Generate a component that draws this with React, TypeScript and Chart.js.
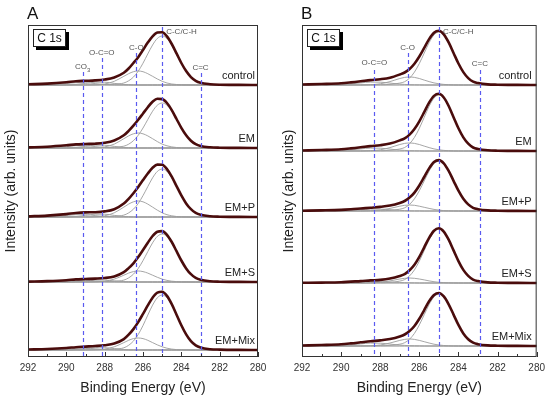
import React, { useEffect, useRef } from 'react';
import { Chart, registerables } from 'chart.js';

Chart.register(...registerables);

const FONT = '"Liberation Sans", Arial, Helvetica, sans-serif';

// Binding energy grid (eV)
const energies = [292, 291, 290, 289.5, 289, 288.5, 288, 287.5, 287, 286.75, 286.5, 286.25, 286, 285.75, 285.5, 285.25, 285, 284.75, 284.5, 284.25, 284, 283.75, 283.5, 283.25, 283, 282.5, 282, 281, 280];
const baselineLevel = [0, 0, 0, 0, 0, 0, 0, 0, 0, 0, 0, 0, 0, 0, 0, 0, 0, 0, 0, 0, 0, 0, 0, 0, 0, 0, 0, 0, 0];
const sampleNames = ['control', 'EM', 'EM+P', 'EM+S', 'EM+Mix'];
const xTickValues = [292, 290, 288, 286, 284, 282, 280];

// ---------------- Panel A ----------------
const aOffsets = [272, 209, 140, 75, 7];
const aPeakLabels = ['CO3', 'O-C=O', 'C-O', 'C-C/C-H', 'C=C'];
const aPeakEnergies = [289.15, 288.15, 286.35, 285.0, 283.0];

const aEnvControl = [0.7, 1.4, 2.8, 3.8, 4.2, 4.6, 5.5, 7.5, 12.2, 16.5, 22, 27.8, 35, 42.4, 48.7, 52.4, 52.8, 48.6, 41, 31.6, 22, 13.9, 7.9, 4.2, 2.2, 0.8, 0.3, 0.1, 0];
const aCcControl = [0, 0, 0, 0.1, 0.1, 0.2, 0.4, 0.7, 2, 4.2, 7.9, 13.8, 21.8, 31.1, 40, 46.6, 49, 46.6, 40, 31.1, 21.8, 13.8, 7.9, 4.2, 2.2, 0.7, 0.3, 0.1, 0];
const aCoControl = [0, 0, 0, 0, 0, 0.2, 1, 3.7, 8.7, 11.3, 13.3, 14, 13.3, 11.3, 8.7, 6, 3.7, 2, 1, 0.5, 0.2, 0.1, 0, 0, 0, 0, 0, 0, 0];
const aOcoControl = [0, 0, 0.1, 0.5, 1.6, 2.8, 2.8, 1.6, 0.5, 0.3, 0.1, 0, 0, 0, 0, 0, 0, 0, 0, 0, 0, 0, 0, 0, 0, 0, 0, 0, 0];
const aCo3Control = [0, 0.1, 1.4, 2.3, 2.3, 1.4, 0.5, 0.1, 0, 0, 0, 0, 0, 0, 0, 0, 0, 0, 0, 0, 0, 0, 0, 0, 0, 0, 0, 0, 0];

const aEnvEM = [0.6, 1.3, 2.7, 3.6, 4.0, 4.3, 5.2, 7.5, 12.7, 17.1, 22.3, 28.2, 34.5, 40.8, 46.2, 49.2, 48.9, 45, 37.9, 29, 20.2, 12.8, 7.3, 3.8, 2, 0.7, 0.3, 0.1, 0];
const aCcEM = [0, 0, 0, 0.1, 0.1, 0.2, 0.4, 0.7, 1.8, 3.8, 7.3, 12.7, 20, 28.5, 36.8, 42.8, 45, 42.8, 36.8, 28.5, 20, 12.7, 7.3, 3.8, 2, 0.7, 0.3, 0.1, 0];
const aCoEM = [0, 0, 0, 0, 0, 0.2, 1.1, 3.9, 9.3, 12.1, 14.2, 15, 14.2, 12.1, 9.3, 6.4, 3.9, 2.2, 1.1, 0.5, 0.2, 0.1, 0, 0, 0, 0, 0, 0, 0];
const aOcoEM = [0, 0, 0.1, 0.5, 1.6, 2.8, 2.8, 1.6, 0.5, 0.3, 0.1, 0, 0, 0, 0, 0, 0, 0, 0, 0, 0, 0, 0, 0, 0, 0, 0, 0, 0];
const aCo3EM = [0, 0.1, 1.4, 2.3, 2.3, 1.4, 0.5, 0.1, 0, 0, 0, 0, 0, 0, 0, 0, 0, 0, 0, 0, 0, 0, 0, 0, 0, 0, 0, 0, 0];

const aEnvEMP = [0.6, 1.4, 2.9, 4.0, 4.6, 4.8, 5.6, 7.8, 13.4, 18.2, 23.8, 30, 36.9, 43.5, 49.2, 52.4, 52.2, 47.9, 40.4, 30.9, 21.6, 13.6, 7.8, 4.1, 2.2, 0.7, 0.3, 0.1, 0];
const aCcEMP = [0, 0, 0, 0.1, 0.1, 0.2, 0.4, 0.7, 1.9, 4.1, 7.8, 13.5, 21.4, 30.4, 39.2, 45.6, 48, 45.6, 39.2, 30.4, 21.4, 13.5, 7.8, 4.1, 2.2, 0.7, 0.3, 0.1, 0];
const aCoEMP = [0, 0, 0, 0, 0, 0.2, 1.2, 4.2, 9.9, 12.9, 15.2, 16, 15.2, 12.9, 9.9, 6.8, 4.2, 2.3, 1.2, 0.5, 0.2, 0.1, 0, 0, 0, 0, 0, 0, 0];
const aOcoEMP = [0, 0, 0.1, 0.5, 1.6, 2.8, 2.8, 1.6, 0.5, 0.3, 0.1, 0, 0, 0, 0, 0, 0, 0, 0, 0, 0, 0, 0, 0, 0, 0, 0, 0, 0];
const aCo3EMP = [0, 0.1, 1.4, 2.3, 2.3, 1.4, 0.5, 0.1, 0, 0, 0, 0, 0, 0, 0, 0, 0, 0, 0, 0, 0, 0, 0, 0, 0, 0, 0, 0, 0];

const aEnvEMS = [0.4, 0.9, 1.8, 2.6, 3.0, 3.4, 4.0, 5.6, 9.9, 13.9, 18.7, 24.9, 32, 39.3, 46, 50.3, 50.9, 47.2, 40, 30.8, 21.5, 13.6, 7.8, 4.1, 2.2, 0.7, 0.3, 0.1, 0];
const aCcEMS = [0, 0, 0, 0.1, 0.1, 0.2, 0.4, 0.7, 1.9, 4.1, 7.8, 13.5, 21.4, 30.4, 39.2, 45.6, 48, 45.6, 39.2, 30.4, 21.4, 13.5, 7.8, 4.1, 2.2, 0.7, 0.3, 0.1, 0];
const aCoEMS = [0, 0, 0, 0, 0, 0.1, 0.8, 2.9, 6.8, 8.9, 10.4, 11, 10.4, 8.9, 6.8, 4.7, 2.9, 1.6, 0.8, 0.4, 0.1, 0.1, 0, 0, 0, 0, 0, 0, 0];
const aOcoEMS = [0, 0, 0.1, 0.4, 1.1, 1.9, 1.9, 1.1, 0.4, 0.2, 0.1, 0, 0, 0, 0, 0, 0, 0, 0, 0, 0, 0, 0, 0, 0, 0, 0, 0, 0];
const aCo3EMS = [0, 0.1, 0.8, 1.4, 1.4, 0.8, 0.3, 0.1, 0, 0, 0, 0, 0, 0, 0, 0, 0, 0, 0, 0, 0, 0, 0, 0, 0, 0, 0, 0, 0];

const aEnvEMMix = [0.5, 1.0, 2.0, 2.8, 3.4, 4.0, 4.8, 6.4, 10.9, 15.3, 20.9, 27.9, 36.1, 44.6, 52.3, 57.4, 58.2, 54.1, 45.8, 35.3, 24.7, 15.6, 8.9, 4.7, 2.5, 0.8, 0.4, 0.1, 0];
const aCcEMMix = [0, 0, 0, 0.1, 0.2, 0.3, 0.4, 0.8, 2.2, 4.7, 8.9, 15.5, 24.5, 34.9, 44.9, 52.3, 55, 52.3, 44.9, 34.9, 24.5, 15.5, 8.9, 4.7, 2.5, 0.8, 0.4, 0.1, 0];
const aCoEMMix = [0, 0, 0, 0, 0, 0.2, 0.9, 3.2, 7.4, 9.7, 11.4, 12, 11.4, 9.7, 7.4, 5.1, 3.2, 1.8, 0.9, 0.4, 0.2, 0.1, 0, 0, 0, 0, 0, 0, 0];
const aOcoEMMix = [0, 0, 0.1, 0.5, 1.4, 2.3, 2.3, 1.4, 0.5, 0.2, 0.1, 0, 0, 0, 0, 0, 0, 0, 0, 0, 0, 0, 0, 0, 0, 0, 0, 0, 0];
const aCo3EMMix = [0, 0.1, 1.1, 1.9, 1.9, 1.1, 0.4, 0.1, 0, 0, 0, 0, 0, 0, 0, 0, 0, 0, 0, 0, 0, 0, 0, 0, 0, 0, 0, 0, 0];

// ---------------- Panel B ----------------
const bOffsets = [272, 206, 146, 74, 11];
const bPeakLabels = ['O-C=O', 'C-O', 'C-C/C-H', 'C=C'];
const bPeakEnergies = [288.3, 286.6, 285.0, 282.9];

const bEnvControl = [0.5, 1.0, 1.7, 2.6, 3.7, 4.9, 5.8, 7.3, 10.5, 12.5, 16, 21.3, 28.5, 37.1, 45.9, 52.3, 54.2, 50.7, 42.6, 32, 21.5, 12.9, 6.9, 3.3, 1.9, 0.6, 0.3, 0.1, 0];
const bCcControl = [0, 0, 0, 0.1, 0.1, 0.2, 0.3, 0.6, 1.9, 3.3, 6.9, 12.9, 21.5, 31.9, 42.3, 50.1, 53, 50.1, 42.3, 31.9, 21.5, 12.9, 6.9, 3.3, 1.9, 0.6, 0.3, 0.1, 0];
const bCoControl = [0, 0, 0, 0, 0, 0.3, 1.2, 3.4, 6.5, 7.6, 8, 7.6, 6.5, 4.9, 3.4, 2.1, 1.2, 0.6, 0.3, 0.1, 0, 0, 0, 0, 0, 0, 0, 0, 0];
const bOcoControl = [0, 0, 0.4, 1.1, 2.1, 2.9, 2.8, 1.9, 0.9, 0.6, 0.3, 0.2, 0.1, 0, 0, 0, 0, 0, 0, 0, 0, 0, 0, 0, 0, 0, 0, 0, 0];

const bEnvEM = [0.5, 1.0, 1.7, 2.6, 3.7, 4.9, 5.8, 7.4, 10.6, 12.7, 16.4, 22, 29.7, 38.9, 48.3, 55.1, 57.2, 53.5, 45, 33.8, 22.7, 13.6, 7.3, 3.5, 2, 0.7, 0.3, 0.1, 0];
const bCcEM = [0, 0, 0, 0.1, 0.1, 0.2, 0.3, 0.7, 2, 3.5, 7.3, 13.6, 22.7, 33.7, 44.7, 52.9, 56, 52.9, 44.7, 33.7, 22.7, 13.6, 7.3, 3.5, 2, 0.7, 0.3, 0.1, 0];
const bCoEM = [0, 0, 0, 0, 0, 0.3, 1.2, 3.4, 6.5, 7.6, 8, 7.6, 6.5, 4.9, 3.4, 2.1, 1.2, 0.6, 0.3, 0.1, 0, 0, 0, 0, 0, 0, 0, 0, 0];
const bOcoEM = [0, 0, 0.4, 1.1, 2.1, 2.9, 2.8, 1.9, 0.9, 0.6, 0.3, 0.2, 0.1, 0, 0, 0, 0, 0, 0, 0, 0, 0, 0, 0, 0, 0, 0, 0, 0];

const bEnvEMP = [0.3, 0.6, 1.1, 1.7, 2.5, 3.3, 4.1, 5.4, 8, 10, 13.4, 18.4, 25.5, 34, 42.6, 48.9, 50.9, 47.7, 40.1, 30.2, 20.3, 12.2, 6.6, 3.2, 1.8, 0.6, 0.3, 0.1, 0];
const bCcEMP = [0, 0, 0, 0.1, 0.1, 0.2, 0.3, 0.6, 1.8, 3.2, 6.6, 12.2, 20.3, 30.1, 39.9, 47.3, 50, 47.3, 39.9, 30.1, 20.3, 12.2, 6.6, 3.2, 1.8, 0.6, 0.3, 0.1, 0];
const bCoEMP = [0, 0, 0, 0, 0, 0.2, 0.9, 2.6, 4.8, 5.7, 6, 5.7, 4.8, 3.7, 2.6, 1.6, 0.9, 0.4, 0.2, 0.1, 0, 0, 0, 0, 0, 0, 0, 0, 0];
const bOcoEMP = [0, 0, 0.3, 0.7, 1.4, 1.9, 1.9, 1.3, 0.6, 0.4, 0.2, 0.1, 0.1, 0, 0, 0, 0, 0, 0, 0, 0, 0, 0, 0, 0, 0, 0, 0, 0];

const bEnvEMS = [0.2, 0.4, 0.8, 1.4, 1.9, 2.6, 3.1, 4.4, 7, 8.9, 12.7, 18.2, 26.1, 35.7, 45.2, 52.3, 54.7, 51.4, 43.3, 32.6, 21.9, 13.1, 7.1, 3.4, 1.9, 0.6, 0.3, 0.1, 0];
const bCcEMS = [0, 0, 0, 0.1, 0.1, 0.2, 0.3, 0.6, 1.9, 3.4, 7.1, 13.1, 21.9, 32.5, 43.1, 51, 54, 51, 43.1, 32.5, 21.9, 13.1, 7.1, 3.4, 1.9, 0.6, 0.3, 0.1, 0];
const bCoEMS = [0, 0, 0, 0, 0, 0.2, 0.7, 2.1, 4, 4.7, 5, 4.7, 4, 3.1, 2.1, 1.3, 0.7, 0.4, 0.2, 0.1, 0, 0, 0, 0, 0, 0, 0, 0, 0];
const bOcoEMS = [0, 0, 0.2, 0.6, 1.1, 1.5, 1.4, 1, 0.5, 0.3, 0.2, 0.1, 0, 0, 0, 0, 0, 0, 0, 0, 0, 0, 0, 0, 0, 0, 0, 0, 0];

const bEnvEMMix = [0.5, 1.0, 1.7, 2.6, 3.7, 4.8, 5.6, 6.9, 9.5, 11.5, 14.9, 20, 27.2, 35.9, 44.7, 51, 53, 49.6, 41.7, 31.4, 21.1, 12.6, 6.8, 3.3, 1.8, 0.6, 0.3, 0.1, 0];
const bCcEMMix = [0, 0, 0, 0.1, 0.1, 0.2, 0.3, 0.6, 1.8, 3.3, 6.8, 12.6, 21.1, 31.3, 41.5, 49.1, 52, 49.1, 41.5, 31.3, 21.1, 12.6, 6.8, 3.3, 1.8, 0.6, 0.3, 0.1, 0];
const bCoEMMix = [0, 0, 0, 0, 0, 0.2, 1, 3, 5.6, 6.6, 7, 6.6, 5.6, 4.3, 3, 1.8, 1, 0.5, 0.2, 0.1, 0, 0, 0, 0, 0, 0, 0, 0, 0];
const bOcoEMMix = [0, 0, 0.4, 1.1, 2.1, 2.9, 2.8, 1.9, 0.9, 0.6, 0.3, 0.2, 0.1, 0, 0, 0, 0, 0, 0, 0, 0, 0, 0, 0, 0, 0, 0, 0, 0];

type Spectrum = { env: number[]; comps: number[][] };

const aSpectra: Spectrum[] = [
  { env: aEnvControl, comps: [aCcControl, aCoControl, aOcoControl, aCo3Control] },
  { env: aEnvEM, comps: [aCcEM, aCoEM, aOcoEM, aCo3EM] },
  { env: aEnvEMP, comps: [aCcEMP, aCoEMP, aOcoEMP, aCo3EMP] },
  { env: aEnvEMS, comps: [aCcEMS, aCoEMS, aOcoEMS, aCo3EMS] },
  { env: aEnvEMMix, comps: [aCcEMMix, aCoEMMix, aOcoEMMix, aCo3EMMix] },
];
const bSpectra: Spectrum[] = [
  { env: bEnvControl, comps: [bCcControl, bCoControl, bOcoControl] },
  { env: bEnvEM, comps: [bCcEM, bCoEM, bOcoEM] },
  { env: bEnvEMP, comps: [bCcEMP, bCoEMP, bOcoEMP] },
  { env: bEnvEMS, comps: [bCcEMS, bCoEMS, bOcoEMS] },
  { env: bEnvEMMix, comps: [bCcEMMix, bCoEMMix, bOcoEMMix] },
];

type PanelCfg = {
  letter: string;
  spectra: Spectrum[];
  offsets: number[];
  peakLabels: string[];
  peakEnergies: number[];
  labelDy: number[];
  lineDy: number[];
  yWidth: number;
  padRight: number;
  yTitlePad: number;
  boxDx: number;
  nameDx: number;
};

const panelA: PanelCfg = {
  letter: 'A',
  spectra: aSpectra,
  offsets: aOffsets,
  peakLabels: aPeakLabels,
  peakEnergies: aPeakEnergies,
  labelDy: [42, 28, 23, 7, 43],
  lineDy: [47, 33, 28, 2, 48],
  yWidth: 28,
  padRight: 17,
  yTitlePad: 3,
  boxDx: 5,
  nameDx: 3,
};

const panelB: PanelCfg = {
  letter: 'B',
  spectra: bSpectra,
  offsets: bOffsets,
  peakLabels: bPeakLabels,
  peakEnergies: bPeakEnergies,
  labelDy: [38, 23, 7, 39],
  lineDy: [45, 28, 2, 45],
  yWidth: 27,
  padRight: 12,
  yTitlePad: 6,
  boxDx: 5,
  nameDx: 5,
};

function buildDatasets(cfg: PanelCfg) {
  const ds: any[] = [];
  cfg.spectra.forEach((s, k) => {
    const off = cfg.offsets[k];
    const pts = (vals: number[]) => energies.map((e, i) => ({ x: e, y: off + vals[i] }));
    ds.push({ data: pts(baselineLevel), borderColor: '#8a8a8a', borderWidth: 1, order: 3 });
    s.comps.forEach((c) => ds.push({ data: pts(c), borderColor: '#9c9c9c', borderWidth: 0.9, order: 2 }));
    ds.push({ data: pts(s.env), borderColor: '#4a0c0c', borderWidth: 2.6, order: 0 });
  });
  return ds;
}

function makePlugin(cfg: PanelCfg) {
  return {
    id: 'xpsAnnot' + cfg.letter,
    afterDatasetsDraw(chart: any) {
      const { ctx, chartArea: ca, scales } = chart;
      const x = scales.x;
      const y = scales.y;
      ctx.save();
      ctx.strokeStyle = '#5a5af0';
      ctx.lineWidth = 1.2;
      ctx.setLineDash([4, 3]);
      cfg.peakEnergies.forEach((e, i) => {
        const px = Math.round(x.getPixelForValue(e)) + 0.5;
        ctx.beginPath();
        ctx.moveTo(px, ca.top + cfg.lineDy[i]);
        ctx.lineTo(px, ca.bottom);
        ctx.stroke();
      });
      ctx.setLineDash([]);
      ctx.fillStyle = '#555';
      ctx.textBaseline = 'middle';
      cfg.peakLabels.forEach((lab, i) => {
        const px = x.getPixelForValue(cfg.peakEnergies[i]);
        const py = ca.top + cfg.labelDy[i];
        ctx.font = '8px ' + FONT;
        if (lab === 'CO3') {
          const w1 = ctx.measureText('CO').width;
          ctx.font = '6px ' + FONT;
          const w2 = ctx.measureText('3').width;
          const start = px - (w1 + w2) / 2;
          ctx.font = '8px ' + FONT;
          ctx.textAlign = 'left';
          ctx.fillText('CO', start, py);
          ctx.font = '6px ' + FONT;
          ctx.fillText('3', start + w1, py + 3);
        } else if (lab === 'C-C/C-H') {
          ctx.textAlign = 'left';
          ctx.fillText(lab, px + 4, py);
        } else {
          ctx.textAlign = 'center';
          ctx.fillText(lab, px, py);
        }
      });
      ctx.fillStyle = '#222';
      ctx.font = '11px ' + FONT;
      ctx.textAlign = 'right';
      ctx.textBaseline = 'middle';
      sampleNames.forEach((n, k) => {
        ctx.fillText(n, ca.right - cfg.nameDx, y.getPixelForValue(cfg.offsets[k]) - 9);
      });
      ctx.strokeStyle = '#333';
      ctx.lineWidth = 1;
      ctx.strokeRect(ca.left + 0.5, ca.top + 0.5, ca.right - ca.left - 1, ca.bottom - ca.top - 1);
      for (let v = 280; v <= 292; v += 1) {
        const px = Math.round(x.getPixelForValue(v)) + 0.5;
        const len = v % 2 === 0 ? 5 : 3;
        ctx.beginPath();
        ctx.moveTo(px, ca.bottom);
        ctx.lineTo(px, ca.bottom - len);
        ctx.stroke();
      }
      const bx = ca.left + cfg.boxDx;
      const by = ca.top + 4;
      const bw = 33;
      const bh = 18;
      ctx.fillStyle = '#000';
      ctx.fillRect(bx + 3, by + 3, bw, bh);
      ctx.fillStyle = '#fff';
      ctx.fillRect(bx, by, bw, bh);
      ctx.strokeStyle = '#222';
      ctx.strokeRect(bx + 0.5, by + 0.5, bw - 1, bh - 1);
      ctx.fillStyle = '#111';
      ctx.font = '12px ' + FONT;
      ctx.textAlign = 'center';
      ctx.fillText('C 1s', bx + bw / 2, by + bh / 2 + 0.5);
      ctx.font = '17px ' + FONT;
      ctx.textAlign = 'left';
      ctx.textBaseline = 'alphabetic';
      ctx.fillStyle = '#111';
      ctx.fillText(cfg.letter, ca.left - 1, ca.top - 6);
      ctx.restore();
    },
  };
}

function Panel({ cfg, left }: { cfg: PanelCfg; left: number }) {
  const ref = useRef<HTMLCanvasElement | null>(null);
  useEffect(() => {
    if (!ref.current) return;
    const chart = new Chart(ref.current, {
      type: 'line',
      data: { datasets: buildDatasets(cfg) },
      options: {
        responsive: false,
        animation: false,
        events: [],
        layout: { padding: { top: 25, right: cfg.padRight, left: 0, bottom: 0 } },
        elements: {
          point: { radius: 0 },
          line: { cubicInterpolationMode: 'monotone', fill: false },
        },
        plugins: { legend: { display: false }, tooltip: { enabled: false } },
        scales: {
          x: {
            type: 'linear',
            reverse: true,
            min: 280,
            max: 292,
            position: 'bottom',
            afterBuildTicks: (s: any) => {
              s.ticks = xTickValues.map((v) => ({ value: v }));
            },
            afterFit: (s: any) => {
              s.height = 42;
            },
            grid: { display: false, drawTicks: false },
            border: { display: false },
            ticks: {
              font: { family: FONT, size: 10 },
              color: '#333',
              padding: 5,
              maxRotation: 0,
              autoSkip: false,
            },
            title: {
              display: true,
              text: 'Binding Energy (eV)',
              font: { family: FONT, size: 14 },
              color: '#222',
              padding: { top: 0, bottom: 2 },
            },
          },
          y: {
            type: 'linear',
            min: 0,
            max: 332,
            afterFit: (s: any) => {
              s.width = cfg.yWidth;
            },
            ticks: { display: false },
            grid: { display: false, drawTicks: false },
            border: { display: false },
            title: {
              display: true,
              text: 'Intensity (arb. units)',
              font: { family: FONT, size: 14 },
              color: '#222',
              padding: { top: cfg.yTitlePad, bottom: 0 },
            },
          },
        },
      } as any,
      plugins: [makePlugin(cfg)],
    });
    return () => chart.destroy();
  }, [cfg]);
  return (
    <canvas
      ref={ref}
      width={275}
      height={399}
      style={{ position: 'absolute', left, top: 0, width: 275, height: 399 }}
    />
  );
}

export default function App() {
  return (
    <div style={{ position: 'fixed', left: 0, top: 0, width: 550, height: 399, background: '#fff' }}>
      <Panel cfg={panelA} left={0} />
      <Panel cfg={panelB} left={275} />
    </div>
  );
}
